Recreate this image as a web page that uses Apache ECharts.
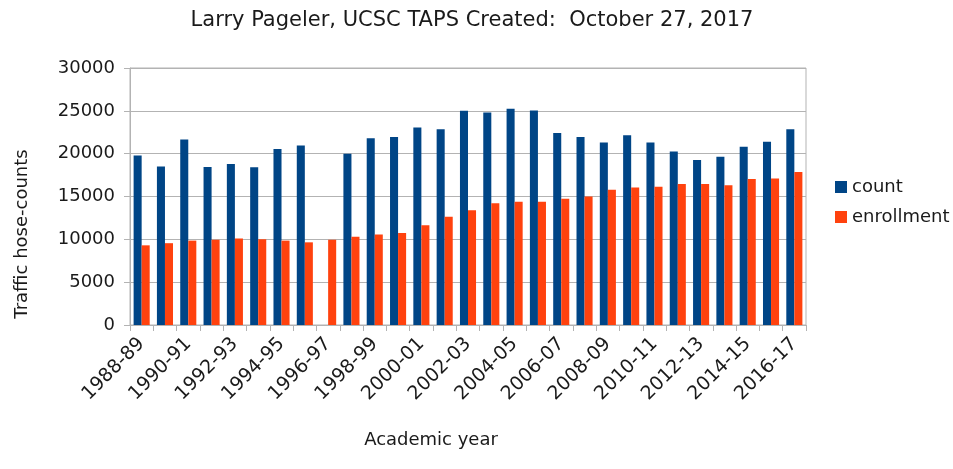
<!DOCTYPE html>
<html>
<head>
<meta charset="utf-8">
<script src="https://cdn.jsdelivr.net/npm/echarts@6/dist/echarts.min.js"></script>
<style>
  html, body { margin: 0; padding: 0; background: #fff; }
  #chart { width: 953px; height: 469px; }
</style>
</head>
<body>
<div id="chart"></div>
<script>
const years = ['1988-89','1989-90','1990-91','1991-92','1992-93','1993-94','1994-95','1995-96',
  '1996-97','1997-98','1998-99','1999-00','2000-01','2001-02','2002-03','2003-04','2004-05',
  '2005-06','2006-07','2007-08','2008-09','2009-10','2010-11','2011-12','2012-13','2013-14',
  '2014-15','2015-16','2016-17']

const count = [19800, 18500, 21650, 18450, 18800, 18400, 20550, 20950,
  null, 20000, 21800, 21950, 23050, 22850, 25000, 24800, 25250,
  25050, 22400, 21950, 21300, 22150, 21300, 20250, 19250, 19650,
  20800, 21400, 22850]

const enrollment = [9300, 9550, 9850, 9950, 10100, 10000, 9850, 9650,
  9950, 10300, 10550, 10750, 11650, 12650, 13400, 14200, 14400,
  14400, 14750, 15000, 15800, 16050, 16150, 16450, 16450, 16300,
  17050, 17100, 17850]

const yTicks = [0, 5000, 10000, 15000, 20000, 25000, 30000]

const font = '"DejaVu Sans", Verdana, sans-serif'
const textColor = '#1a1a1a'
const lineColor = '#b3b3b3'

const chart = echarts.init(document.getElementById('chart'))
chart.setOption({
  animation: false,
  textStyle: { fontFamily: font },
  title: {
    text: 'Larry Pageler, UCSC TAPS Created:  October 27, 2017',
    left: 467,
    textAlign: 'center',
    top: 5,
    textStyle: { fontFamily: font, fontSize: 21, fontWeight: 'normal', color: textColor }
  },
  legend: {
    orient: 'vertical',
    left: 830,
    top: 173,
    itemWidth: 12,
    itemHeight: 12,
    itemGap: 12,
    icon: 'rect',
    textStyle: { fontFamily: font, fontSize: 18, color: textColor }
  },
  graphic: [
    {
      type: 'text',
      x: 22,
      y: 234,
      rotation: Math.PI / 2,
      style: {
        text: 'Traffic hose-counts',
        font: '18px ' + font,
        fill: textColor,
        textAlign: 'center',
        textVerticalAlign: 'middle'
      }
    },
    {
      type: 'text',
      x: 431,
      y: 440,
      style: {
        text: 'Academic year',
        font: '18px ' + font,
        fill: textColor,
        textAlign: 'center',
        textVerticalAlign: 'middle'
      }
    }
  ],
  grid: {
    left: 130,
    right: 147,
    top: 68,
    bottom: 144,
    show: true,
    borderColor: lineColor,
    borderWidth: 1
  },
  xAxis: {
    type: 'category',
    data: years,
    axisLine: { lineStyle: { color: lineColor } },
    axisTick: { show: true, interval: 0, length: 6, lineStyle: { color: lineColor } },
    axisLabel: {
      interval: 1,
      rotate: 45,
      fontSize: 19,
      color: textColor,
      margin: 16
    }
  },
  yAxis: {
    type: 'value',
    min: yTicks[0],
    max: yTicks[yTicks.length - 1],
    interval: 5000,
    axisLine: { show: true, lineStyle: { color: lineColor } },
    axisTick: { show: true, length: 6, lineStyle: { color: lineColor } },
    axisLabel: { fontSize: 18, color: textColor, margin: 15, formatter: v => String(v) },
    splitLine: { lineStyle: { color: lineColor } }
  },
  series: [
    {
      name: 'count',
      type: 'bar',
      data: count,
      barGap: '0%',
      barCategoryGap: '31%',
      itemStyle: { color: '#004586' }
    },
    {
      name: 'enrollment',
      type: 'bar',
      data: enrollment,
      itemStyle: { color: '#ff420e' }
    }
  ]
})
</script>
</body>
</html>
